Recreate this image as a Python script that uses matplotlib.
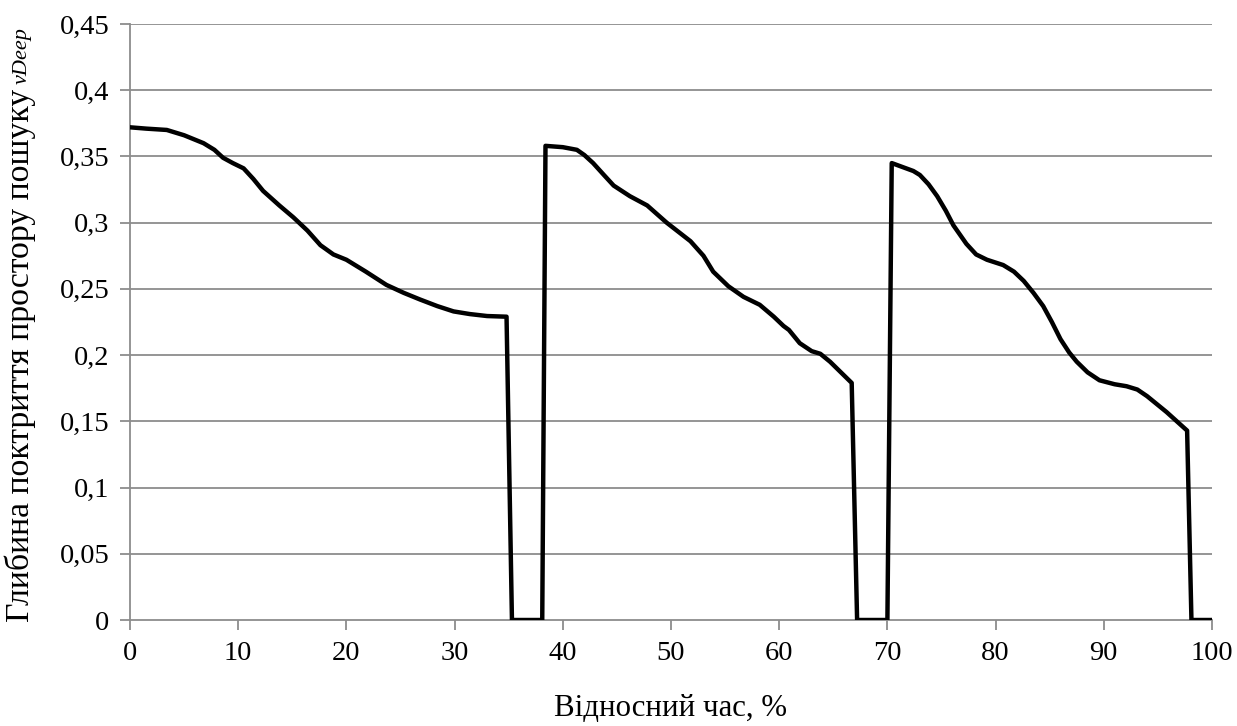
import matplotlib
matplotlib.use("Agg")
import matplotlib.pyplot as plt

# Data
time_pct = [0.0, 1.5, 3.4, 5.0, 6.8, 7.8, 8.6, 9.5, 10.5, 11.4, 12.3, 13.8, 15.1, 16.4, 17.6, 18.8, 20.0, 21.8,
            23.7, 25.3, 26.8, 28.4, 29.9, 31.4, 33.0, 34.8, 35.3, 38.1, 38.4,
            40.0, 41.3, 42.0, 42.8, 43.8, 44.7, 46.2, 47.8, 49.6, 51.8, 53.0, 53.9, 55.3, 56.7, 58.2, 59.5,
            60.4, 60.9, 61.9, 63.0, 63.8, 64.7, 65.7, 66.7, 67.2, 70.0, 70.4,
            72.4, 73.0, 73.8, 74.6, 75.4, 76.1, 77.3, 78.2, 79.2, 80.7, 81.7, 82.6, 83.5, 84.4, 85.2, 86.0,
            86.8, 87.5, 88.5, 89.6, 91.0, 92.1, 93.1, 94.0, 95.8, 97.7, 98.1, 100.0]
depth = [0.372, 0.371, 0.370, 0.366, 0.360, 0.355, 0.349, 0.345, 0.341, 0.333, 0.324, 0.313, 0.304, 0.294, 0.283, 0.276, 0.272, 0.263,
         0.253, 0.247, 0.242, 0.237, 0.233, 0.231, 0.2295, 0.229, 0.0, 0.0, 0.358,
         0.357, 0.355, 0.351, 0.345, 0.336, 0.328, 0.320, 0.313, 0.300, 0.286, 0.275, 0.263, 0.252, 0.244, 0.238, 0.229,
         0.222, 0.219, 0.209, 0.203, 0.201, 0.195, 0.187, 0.179, 0.0, 0.0, 0.345,
         0.339, 0.336, 0.329, 0.320, 0.309, 0.298, 0.284, 0.276, 0.272, 0.268, 0.263, 0.256, 0.247, 0.237, 0.225, 0.212,
         0.202, 0.195, 0.187, 0.181, 0.178, 0.1765, 0.174, 0.169, 0.157, 0.143, 0.0, 0.0]

x_ticks = [0, 10, 20, 30, 40, 50, 60, 70, 80, 90, 100]
y_ticks = [0, 0.05, 0.1, 0.15, 0.2, 0.25, 0.3, 0.35, 0.4, 0.45]
y_tick_labels = ["0", "0,05", "0,1", "0,15", "0,2", "0,25", "0,3", "0,35", "0,4", "0,45"]
x_label = "Відносний час, %"
y_label_main = "Глибина поктриття простору пошуку"
y_label_italic = "vDeep"

plt.rcParams['font.family'] = ['Liberation Serif', 'DejaVu Serif']

fig = plt.figure(figsize=(12.37, 7.26), dpi=100)
ax = fig.add_axes([130/1237, 106/726, (1212-130)/1237, (620-24)/726])

grid_c = '#8c8c8c'
for yv in y_ticks[1:]:
    ax.axhline(yv, color=grid_c, lw=1.3, zorder=1)

ax.plot(time_pct, depth, color='black', lw=3.2, solid_joinstyle='round', zorder=3)

ax.set_xlim(0, 100)
ax.set_ylim(0, 0.45)
ax.set_xticks(x_ticks)
ax.set_xticklabels([str(t) for t in x_ticks], fontsize=20.5)
ax.set_yticks(y_ticks)
ax.set_yticklabels(y_tick_labels, fontsize=20.5)
for s in ['top', 'right']:
    ax.spines[s].set_visible(False)
for s in ['left', 'bottom']:
    ax.spines[s].set_color(grid_c)
    ax.spines[s].set_linewidth(1.3)
ax.tick_params(axis='both', direction='out', length=7, width=1.3, color=grid_c, pad=8)

fig.text(671/1237, 1 - 709/726, x_label, ha='center', va='center', fontsize=22.2)

t1 = fig.text(20/1237, 1 - 622/726, y_label_main, rotation=90, ha='center', va='bottom', fontsize=24.3)
fig.canvas.draw()
bb = t1.get_window_extent()
top_y = bb.y1 / fig.bbox.height
fig.text(22/1237, top_y + 5/726, y_label_italic, rotation=90, ha='center', va='bottom',
         fontsize=16, style='italic')

fig.savefig("out.png", dpi=100)
